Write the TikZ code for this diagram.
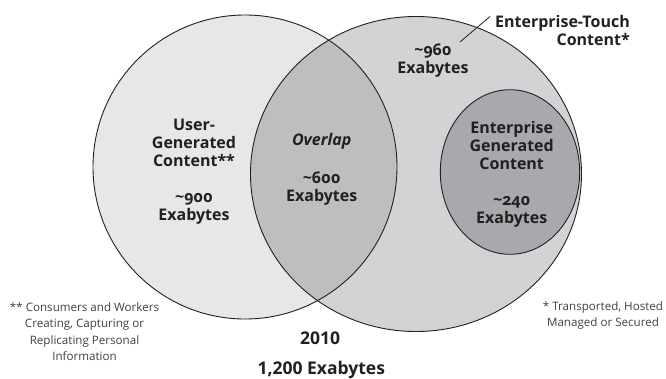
\documentclass[tikz,border=0pt]{standalone}
\usepackage{fontspec}
\setmainfont{Open Sans}
\newfontfamily\osf{Open Sans}[Numbers=OldStyle]
\definecolor{cleft}{HTML}{E6E7E8}
\definecolor{cright}{HTML}{D1D3D4}
\definecolor{cover}{HTML}{BCBEC0}
\definecolor{cinner}{HTML}{A7A9AC}
\definecolor{ink}{HTML}{231F20}
\definecolor{note}{HTML}{414042}
\tikzset{
  outline/.style={draw=ink, line width=0.9pt},
  lbl/.style={font=\bfseries\fontsize{16}{18}\selectfont, text=ink, align=center, inner sep=0pt},
  numlbl/.style={font=\osf\bfseries\fontsize{16}{18}\selectfont, text=ink, align=center, inner sep=0pt},
  biglbl/.style={font=\bfseries\fontsize{17.5}{20}\selectfont, text=ink, align=center, inner sep=0pt},
  notelbl/.style={font=\fontsize{11.6}{16.3}\selectfont, text=note, align=center, inner sep=0pt},
  leader/.style={draw=ink, line width=0.8pt}
}
\begin{document}
\begin{tikzpicture}[x=1pt,y=-1pt]
\useasboundingbox (0,0) rectangle (666,378);
% centres
\coordinate (L) at (245,167);
\coordinate (R) at (416,174);
\coordinate (E) at (510,172);
% fills
\fill[cleft] (L) circle[radius=152pt];
\fill[cright] (R) ellipse[x radius=165.5pt, y radius=157.5pt];
\begin{scope}
  \clip (L) circle[radius=152pt];
  \fill[cover] (R) ellipse[x radius=165.5pt, y radius=157.5pt];
\end{scope}
\fill[cinner] (E) ellipse[x radius=69.7pt, y radius=82.3pt];
% outlines
\draw[outline] (L) circle[radius=152pt];
\draw[outline] (R) ellipse[x radius=165.5pt, y radius=157.5pt];
\draw[outline] (E) ellipse[x radius=69.7pt, y radius=82.3pt];
% labels
\node[lbl] (ugc) at (194,142.7) {User-\\Generated\\Content**};
\node[numlbl] (ugcn) at (194,208.5) {\textasciitilde900\\Exabytes};
\node[lbl, font=\bfseries\itshape\fontsize{16}{18}\selectfont] (ovl) at (321.7,141.7) {Overlap};
\node[numlbl] (ovln) at (321.7,188.7) {\textasciitilde600\\Exabytes};
\node[lbl] (egc) at (511.7,145.7) {Enterprise\\Generated\\Content};
\node[numlbl] (egcn) at (511.7,211.5) {\textasciitilde240\\Exabytes};
\node[numlbl] (etn) at (433,61) {\textasciitilde960\\Exabytes};
\node[lbl, align=right, anchor=east] (touch) at (630,30) {Enterprise-Touch\\Content*};
\coordinate (tickA) at (460,42);
\coordinate (tickB) at (490,16.5);
\draw[leader] (tickA) -- (tickB);
\node[notelbl] (noteL) at (84.5,331.7) {** Consumers and Workers\\Creating, Capturing or\\Replicating Personal\\Information};
\node[notelbl] (noteR) at (603,315.2) {* Transported, Hosted\\Managed or Secured};
\node[biglbl] (year) at (320,338) {2010};
\node[biglbl] (total) at (321.3,370) {1,200 Exabytes};
\end{tikzpicture}
\end{document}
